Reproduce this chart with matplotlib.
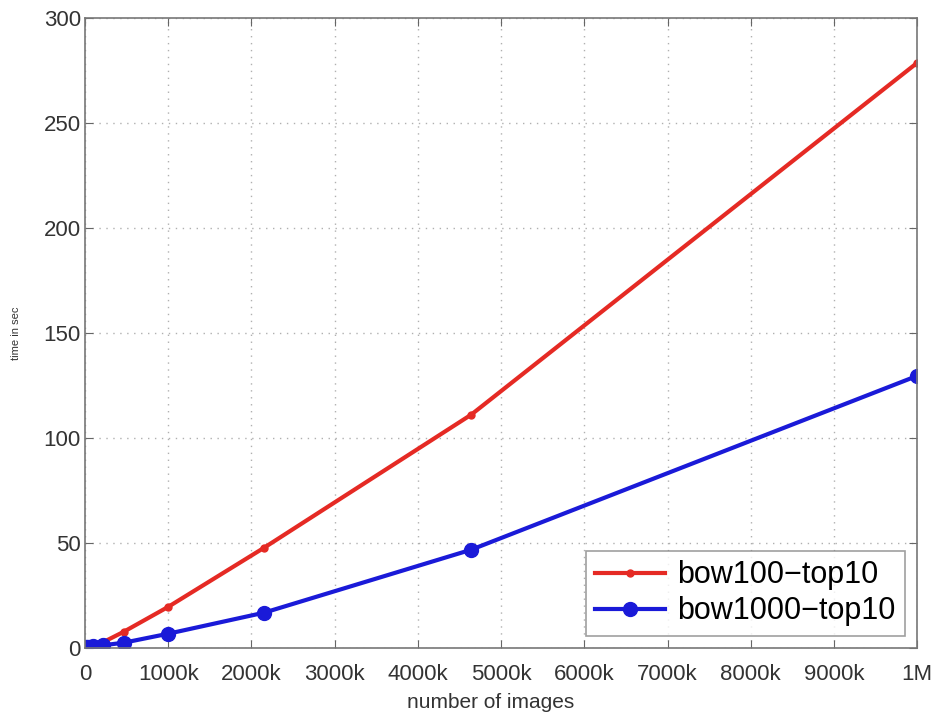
import matplotlib
matplotlib.use("Agg")
import matplotlib.pyplot as plt

# number of images (axis unit = 1000k) and query time in seconds
n_images = [0.01, 0.0215, 0.0464, 0.1, 0.215, 0.464, 1.0, 2.15, 4.64, 10.0]
bow100_top10 = [0.2, 0.4, 0.7, 1.3, 2.6, 7.6, 19.5, 47.6, 111.0, 278.6]
bow1000_top10 = [0.3, 0.4, 0.5, 0.8, 1.2, 2.4, 6.7, 16.7, 46.7, 129.5]

xticks = [0, 1, 2, 3, 4, 5, 6, 7, 8, 9, 10]
xtick_labels = ["0", "1000k", "2000k", "3000k", "4000k", "5000k",
                "6000k", "7000k", "8000k", "9000k", "1M"]
yticks = [0, 50, 100, 150, 200, 250, 300]

plt.rcParams["font.family"] = ["Liberation Sans", "DejaVu Sans"]

fig = plt.figure(figsize=(9.34, 7.15), dpi=100)
ax = fig.add_axes([0.091, 0.094, 0.891, 0.881])

ax.plot(n_images, bow100_top10, color="#e52a24", lw=3, marker="o",
        ms=5, label="bow100\u2212top10")
ax.plot(n_images, bow1000_top10, color="#1a1ad8", lw=3, marker="o",
        ms=10, label="bow1000\u2212top10")

ax.set_xlim(0, 10)
ax.set_ylim(0, 300)
ax.set_xticks(xticks)
ax.set_xticklabels(xtick_labels)
ax.set_yticks(yticks)
ax.tick_params(direction="in", length=6, top=True, right=True,
               labelsize=16, colors="#666666", labelcolor="#333333")
ax.tick_params(axis="x", pad=12)
ax.tick_params(axis="y", pad=3)
ax.grid(True, linestyle=(0, (1, 4)), color="#b0b0b0", lw=1)
for s in ax.spines.values():
    s.set_color("#777777")
    s.set_linewidth(1.2)

ax.set_xlabel("number of images", fontsize=15, color="#333333", labelpad=0)
ax.xaxis.set_label_coords(0.488, -0.072)
ax.set_ylabel("time in sec", fontsize=8, color="#333333", labelpad=16)

leg = ax.legend(loc="lower right", fontsize=22, frameon=True, fancybox=False,
                handlelength=2.3, borderpad=0.3, labelspacing=0.2,
                handletextpad=0.4, borderaxespad=0.4)
leg.get_frame().set_edgecolor("#888888")
leg.get_frame().set_linewidth(1.2)

fig.savefig("out.png", dpi=100)
